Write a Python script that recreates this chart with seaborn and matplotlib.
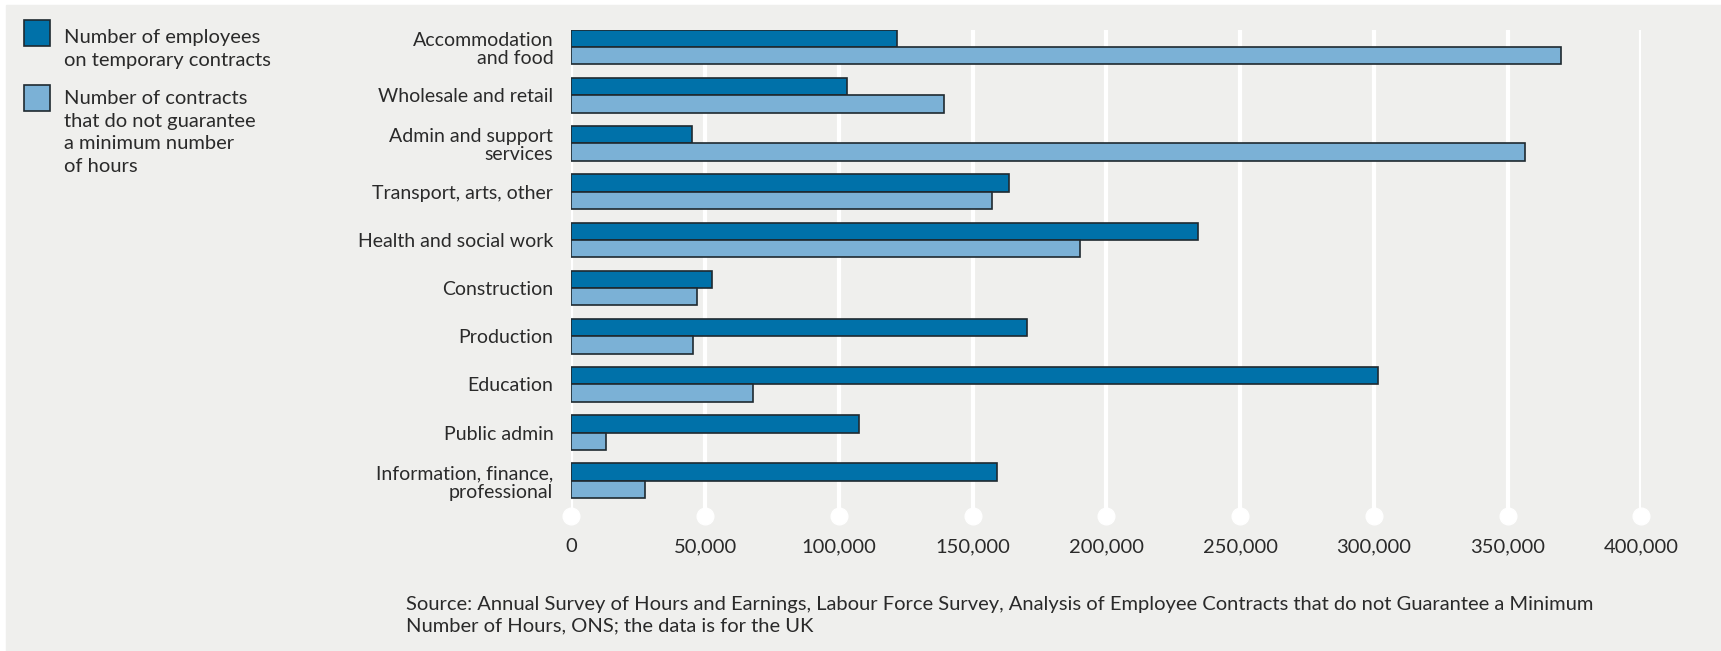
import numpy as np
import pandas as pd
import matplotlib.pyplot as plt
import seaborn as sns
from matplotlib.patches import Rectangle

# data
sectors = ["Accommodation\nand food", "Wholesale and retail", "Admin and support\nservices",
           "Transport, arts, other", "Health and social work", "Construction", "Production",
           "Education", "Public admin", "Information, finance,\nprofessional"]
temporary = [121600, 103100, 45000, 163600, 234400, 52700, 170300, 301700, 107600, 159000]
no_guarantee = [369800, 139400, 356400, 157300, 190300, 47000, 45400, 67900, 13000, 27600]
series_names = ["Number of employees\non temporary contracts",
                "Number of contracts\nthat do not guarantee\na minimum number\nof hours"]
x_ticks = [0, 50000, 100000, 150000, 200000, 250000, 300000, 350000, 400000]
source = ("Source: Annual Survey of Hours and Earnings, Labour Force Survey, Analysis of Employee Contracts that do not Guarantee a Minimum\n"
          "Number of Hours, ONS; the data is for the UK")

df = pd.DataFrame({"sector": sectors, series_names[0]: temporary, series_names[1]: no_guarantee})
df = df.melt(id_vars="sector", var_name="series", value_name="value")

dark = "#0071a9"
light = "#7bb1d6"
edge = "#1f2a30"
panel = "#efefed"
text_col = "#2a2a2a"

sns.set_style("white")
plt.rcParams['font.family'] = ['Lato', 'DejaVu Sans']

W, H = 1721, 651
fig = plt.figure(figsize=(W / 100, H / 100), dpi=100)
fig.patches.append(Rectangle((6 / W, 0), (W - 6) / W, (H - 5) / H,
                             transform=fig.transFigure, color=panel, zorder=-10))

ax = fig.add_axes([571.4 / W, 1 - 516 / H, 1070 / W, 486 / H])
ax.patch.set_alpha(0)

sns.barplot(data=df, x="value", y="sector", hue="series", orient="h",
            palette=[dark, light], saturation=1, width=0.72,
            edgecolor=edge, linewidth=1.2, legend=False, ax=ax, zorder=3)

ylo, yhi = 9.73, -0.355
ax.set_xlim(0, 400000)
ax.set_ylim(ylo, yhi)
for s in ax.spines.values():
    s.set_visible(False)

# white gridlines ending in a dot
ax.vlines(x_ticks, ymin=yhi, ymax=ylo, color="white", lw=3, zorder=0)
ax.plot(x_ticks, [ylo] * len(x_ticks), "o", color="white", ms=12, clip_on=False, zorder=0)

ax.set_xticks(x_ticks)
ax.set_xticklabels([f"{t:,}" for t in x_ticks], fontsize=14.5, color=text_col)
ax.tick_params(axis="x", length=0, pad=16)
ax.tick_params(axis="y", length=0, pad=13)
for lab in ax.get_yticklabels():
    lab.set_fontsize(14)
    lab.set_color(text_col)
    lab.set_multialignment("right")
    lab.set_linespacing(1.1)
ax.set_xlabel("")
ax.set_ylabel("")

# legend, top-aligned squares
for name, col, top, ttop in zip(series_names, [dark, light], [20, 85], [29, 90]):
    fig.patches.append(Rectangle((24 / W, 1 - (top + 26) / H), 26 / W, 26 / H,
                                 transform=fig.transFigure, facecolor=col,
                                 edgecolor=edge, lw=1.2, zorder=5))
    fig.text(64 / W, 1 - ttop / H, name, fontsize=14.5, color=text_col,
             va="top", ha="left", linespacing=1.4)

fig.text(406 / W, 1 - 596 / H, source, fontsize=14.5, color=text_col,
         va="top", ha="left", linespacing=1.33)

fig.savefig("out.png", dpi=100)
